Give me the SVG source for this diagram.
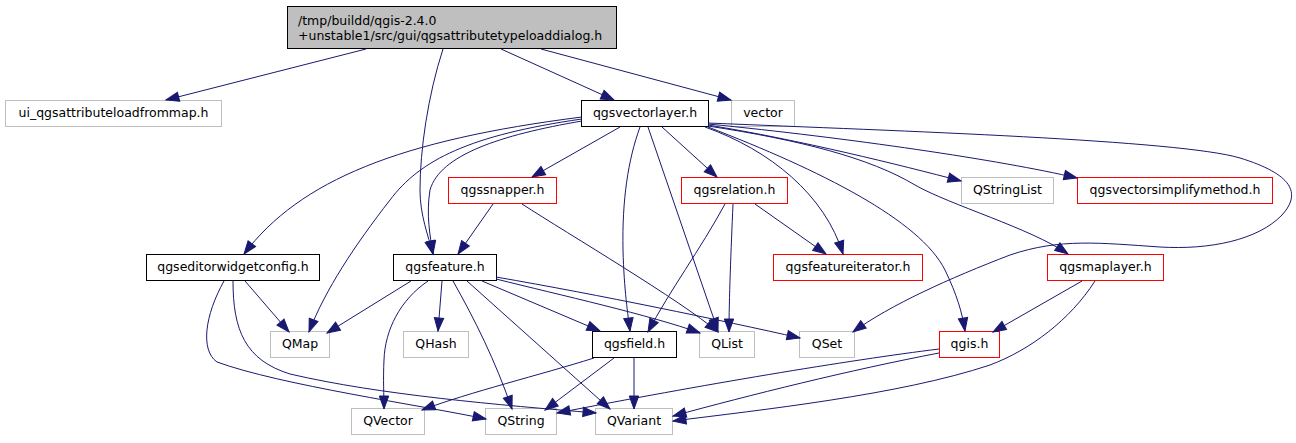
<svg xmlns="http://www.w3.org/2000/svg" width="1296" height="443" viewBox="0 0 1296 443">
<style>
  .n rect{fill:#fff;stroke-width:1}
  .b rect{stroke:#000}
  .g rect{stroke:#bfbfbf}
  .r rect{stroke:#ff0000}
  .root rect{fill:#bfbfbf;stroke:#000}
  text{font-family:"DejaVu Sans","Liberation Sans",sans-serif;font-size:12.5px;fill:#000;text-anchor:middle}
  #edges path{fill:none;stroke:#191970;stroke-width:1;marker-end:url(#ah)}
</style>
<defs>
  <marker id="ah" markerUnits="userSpaceOnUse" markerWidth="14" markerHeight="10" refX="13" refY="4.7" orient="auto" overflow="visible">
    <path d="M0,0 L13,4.7 L0,9.4 z" fill="#191970" stroke="#191970" stroke-width="1"/>
  </marker>
</defs>
<rect width="1296" height="443" fill="#fff"/>
<g id="nodes">
  <g id="root" class="n root"><rect x="287.5" y="6.5" width="329" height="42"/><text x="298" y="24.5" style="text-anchor:start">/tmp/buildd/qgis-2.4.0</text><text x="298" y="39.5" style="text-anchor:start">+unstable1/src/gui/qgsattributetypeloaddialog.h</text></g>
  <g id="ui" class="n g"><rect x="5.5" y="100.5" width="216" height="26"/><text x="113.5" y="117">ui_qgsattributeloadfrommap.h</text></g>
  <g id="vectorlayer" class="n b"><rect x="581.5" y="100.5" width="127" height="26"/><text x="645" y="117">qgsvectorlayer.h</text></g>
  <g id="vector" class="n g"><rect x="731.5" y="100.5" width="63" height="26"/><text x="763" y="117">vector</text></g>
  <g id="qstringlist" class="n g"><rect x="961.5" y="177.5" width="92" height="26"/><text x="1007.5" y="194">QStringList</text></g>
  <g id="simplify" class="n r"><rect x="1077.5" y="177.5" width="195" height="26" stroke="#ff0000"/><text x="1175" y="194">qgsvectorsimplifymethod.h</text></g>
  <g id="snapper" class="n r"><rect x="448.5" y="177.5" width="108" height="26" stroke="#ff0000"/><text x="502.5" y="194">qgssnapper.h</text></g>
  <g id="relation" class="n r"><rect x="681.5" y="177.5" width="106" height="26" stroke="#ff0000"/><text x="734.5" y="194">qgsrelation.h</text></g>
  <g id="featureiterator" class="n r"><rect x="773.5" y="254.5" width="149" height="26" stroke="#ff0000"/><text x="848" y="271">qgsfeatureiterator.h</text></g>
  <g id="editorwidgetconfig" class="n b"><rect x="146.5" y="254.5" width="173" height="26"/><text x="233" y="271">qgseditorwidgetconfig.h</text></g>
  <g id="feature" class="n b"><rect x="393.5" y="254.5" width="103" height="26"/><text x="445" y="271">qgsfeature.h</text></g>
  <g id="maplayer" class="n r"><rect x="1047.5" y="254.5" width="116" height="26" stroke="#ff0000"/><text x="1105.5" y="271">qgsmaplayer.h</text></g>
  <g id="qmap" class="n g"><rect x="270.5" y="331.5" width="59" height="26"/><text x="300" y="348">QMap</text></g>
  <g id="qhash" class="n g"><rect x="403.5" y="331.5" width="65" height="26"/><text x="436" y="348">QHash</text></g>
  <g id="field" class="n b"><rect x="592.5" y="331.5" width="84" height="26"/><text x="634.5" y="348">qgsfield.h</text></g>
  <g id="qlist" class="n g"><rect x="699.5" y="331.5" width="55" height="26"/><text x="727" y="348">QList</text></g>
  <g id="qset" class="n g"><rect x="799.5" y="331.5" width="55" height="26"/><text x="827" y="348">QSet</text></g>
  <g id="qgis" class="n r"><rect x="939.5" y="331.5" width="60" height="26" stroke="#ff0000"/><text x="969.5" y="348">qgis.h</text></g>
  <g id="qvector" class="n g"><rect x="351.5" y="408.5" width="73" height="26"/><text x="388" y="425">QVector</text></g>
  <g id="qstring" class="n g"><rect x="485.5" y="408.5" width="71" height="26"/><text x="521" y="425">QString</text></g>
  <g id="qvariant" class="n g"><rect x="595.5" y="408.5" width="77" height="26"/><text x="634" y="425">QVariant</text></g>
</g>
<g id="edges">
  <path d="M366,49 L166,100"/>
  <path d="M443,49 C428,95 420,150 420,190 C420,215 428,235 433,254"/>
  <path d="M501,49 L614,100"/>
  <path d="M541,49 L731,100"/>
  <path d="M582,117 C400,140 300,180 244,254"/>
  <path d="M582,119 C470,135 420,160 390,200 C355,245 325,290 309,332"/>
  <path d="M582,121 C500,135 440,155 430,190 C426,215 430,235 433,254"/>
  <path d="M620,127 L532,177"/>
  <path d="M640,127 C628,160 622,200 623,250 C624,290 628,315 630,331"/>
  <path d="M648,127 L718,331"/>
  <path d="M662,127 L717,177"/>
  <path d="M705,127 C770,150 825,195 843,254"/>
  <path d="M708,127 C820,170 920,220 945,270 C957,295 962,312 965,331"/>
  <path d="M708,126 C800,140 870,158 915,185 C950,205 1030,228 1068,254"/>
  <path d="M708,125 C800,140 900,165 961,181"/>
  <path d="M708,124 C850,138 1000,160 1077,178"/>
  <path d="M708,123 C900,131 1180,140 1240,158 C1292,174 1302,193 1282,215 C1258,240 1210,250 1160,247 C1100,243 1060,238 1010,255 C950,278 890,305 853,332"/>
  <path d="M245,281 L289,332"/>
  <path d="M224,281 C205,315 200,350 217,362 C280,385 420,405 486,419"/>
  <path d="M233,281 C233,330 245,360 290,374 C380,395 500,405 596,413"/>
  <path d="M411,281 L327,333"/>
  <path d="M428,281 C400,300 385,330 384,360 C383,380 384,395 384,409"/>
  <path d="M442,281 L438,331"/>
  <path d="M453,281 C475,320 495,360 512,409"/>
  <path d="M467,281 L610,409"/>
  <path d="M482,281 L600,331"/>
  <path d="M496,279 C560,295 650,315 700,333"/>
  <path d="M496,277 C600,295 720,320 800,338"/>
  <path d="M493,204 L458,254"/>
  <path d="M522,204 C570,235 680,300 718,332"/>
  <path d="M755,204 L826,254"/>
  <path d="M725,204 C700,250 670,290 648,332"/>
  <path d="M733,204 C731,250 729,300 729,332"/>
  <path d="M594,358 C540,375 470,392 422,410"/>
  <path d="M614,358 L545,410"/>
  <path d="M634,358 L634,409"/>
  <path d="M939,349 C850,360 700,385 557,413"/>
  <path d="M939,353 C850,370 750,395 673,416"/>
  <path d="M1082,281 L993,332"/>
  <path d="M1095,281 C1070,320 1030,350 990,365 C900,395 760,410 673,421"/>
</g>
</svg>
